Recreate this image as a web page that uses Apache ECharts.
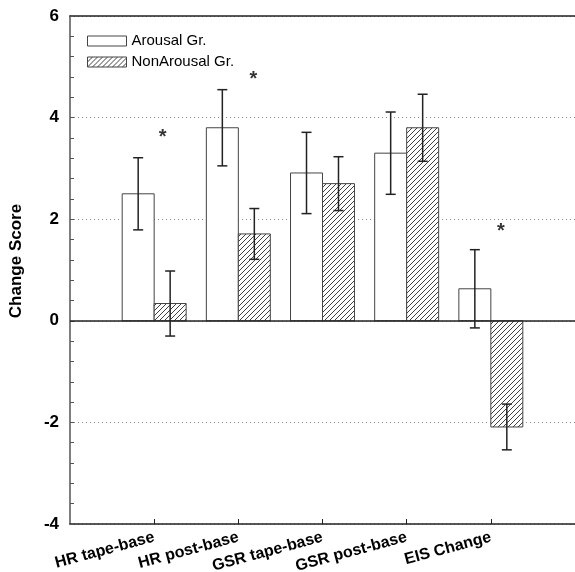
<!DOCTYPE html>
<html><head><meta charset="utf-8">
<script src="https://cdn.jsdelivr.net/npm/echarts@6/dist/echarts.min.js"></script>
<style>html,body{margin:0;padding:0;background:#fff}#c{width:575px;height:572px}</style>
</head><body><div id="c"></div>
<script>
const categories = ['HR tape-base','HR post-base','GSR tape-base','GSR post-base','EIS Change'];
const arousal = [2.50, 3.80, 2.91, 3.30, 0.63];
const arousalErr = [0.71, 0.75, 0.80, 0.81, 0.77];
const nonArousal = [0.34, 1.71, 2.70, 3.80, -2.09];
const nonArousalErr = [0.64, 0.50, 0.53, 0.66, 0.45];
const sigMarks = [[1.10, 3.68], [2.18, 4.82], [5.12, 1.84]];

const BAR_W = 0.38;
const FONT = 'Liberation Sans, Arial, sans-serif';

function hatchCanvas(){
  const c = document.createElement('canvas'); c.width = 5; c.height = 5;
  const g = c.getContext('2d');
  g.fillStyle = '#fff'; g.fillRect(0,0,5,5);
  g.strokeStyle = '#2a2a2a'; g.lineWidth = 0.9;
  g.beginPath();
  g.moveTo(0,5); g.lineTo(5,0);
  g.moveTo(-1,1); g.lineTo(1,-1);
  g.moveTo(4,6); g.lineTo(6,4);
  g.stroke();
  return c;
}
const hatchFill = {image: hatchCanvas(), repeat: 'repeat'};

function makeRender(side, fill){
  return function(params, api){
    const x = api.value(0), v = api.value(1), e = api.value(2);
    const base = api.coord([x, 0]);
    const top = api.coord([x, v]);
    const w = api.size([BAR_W, 0])[0];
    const x0 = side < 0 ? base[0] - w : base[0];
    const y0 = Math.min(base[1], top[1]);
    const h = Math.abs(base[1] - top[1]);
    const cx = x0 + w / 2;
    const hi = api.coord([x, v + e])[1];
    const lo = api.coord([x, v - e])[1];
    const cap = 5;
    return {type: 'group', children: [
      {type: 'rect', shape: {x: x0, y: y0, width: w, height: h}, style: {fill: fill, stroke: '#444', lineWidth: 1}},
      {type: 'line', shape: {x1: cx, y1: hi, x2: cx, y2: lo}, style: {stroke: '#222', lineWidth: 1.5}},
      {type: 'line', shape: {x1: cx - cap, y1: hi, x2: cx + cap, y2: hi}, style: {stroke: '#222', lineWidth: 1.5}},
      {type: 'line', shape: {x1: cx - cap, y1: lo, x2: cx + cap, y2: lo}, style: {stroke: '#222', lineWidth: 1.5}}
    ]};
  };
}

const chart = echarts.init(document.getElementById('c'), null, {renderer: 'canvas'});
const ticks = categories.map((c, i) => i + 1);
chart.setOption({
  animation: false,
  backgroundColor: '#fff',
  textStyle: {fontFamily: FONT},
  grid: {left: 70, top: 16, right: 0, bottom: 48, containLabel: false, outerBoundsMode: 'none'},
  legend: {
    orient: 'vertical', left: 82, top: 28.5, itemWidth: 39, itemHeight: 10, itemGap: 6,
    icon: 'rect',
    textStyle: {fontSize: 15, fontFamily: FONT, color: '#000', lineHeight: 15},
    data: [
      {name: 'Arousal Gr.', itemStyle: {color: '#fff', borderColor: '#444', borderWidth: 1}},
      {name: 'NonArousal Gr.', itemStyle: {color: hatchFill, borderColor: '#444', borderWidth: 1}}
    ]
  },
  xAxis: [{
    type: 'value', min: 0, max: 6, interval: 1, position: 'bottom',
    axisLine: {show: true, onZero: false, lineStyle: {color: '#222', width: 1.5}},
    axisTick: {show: true, inside: true, length: 5, customValues: ticks, lineStyle: {color: '#222'}},
    axisLabel: {customValues: ticks, formatter: v => categories[Math.round(v) - 1] || '', rotate: 15, margin: 13,
      fontSize: 16, fontWeight: 'bold', color: '#000', fontFamily: FONT},
    splitLine: {show: false}
  }, {
    type: 'value', min: 0, max: 6, position: 'top',
    axisLine: {show: true, onZero: false, lineStyle: {color: '#222', width: 1.5}},
    axisTick: {show: false}, axisLabel: {show: false}, splitLine: {show: false}
  }],
  yAxis: {
    type: 'value', min: -4, max: 6, interval: 2,
    name: 'Change Score', nameLocation: 'middle', nameGap: 45,
    nameTextStyle: {fontSize: 17, fontWeight: 'bold', color: '#000', fontFamily: FONT, padding: [0, 0, 0, 18]},
    axisLine: {show: true, onZero: false, lineStyle: {color: '#555', width: 1.5}},
    axisTick: {show: true, inside: true, length: 4, lineStyle: {color: '#555'}},
    minorTick: {show: true, splitNumber: 5, length: 4, lineStyle: {color: '#555'}},
    axisLabel: {fontSize: 17, fontWeight: 'bold', color: '#000', margin: 11, fontFamily: FONT},
    splitLine: {show: true, lineStyle: {type: [1, 3], color: '#888', width: 1}}
  },
  series: [
    {name: 'Arousal Gr.', type: 'custom', xAxisIndex: 0, z: 2,
      itemStyle: {color: '#fff', borderColor: '#444'},
      renderItem: makeRender(-1, '#fff'),
      data: arousal.map((v, i) => [i + 1, v, arousalErr[i]])},
    {name: 'NonArousal Gr.', type: 'custom', xAxisIndex: 0, z: 2,
      itemStyle: {color: hatchFill, borderColor: '#444'},
      renderItem: makeRender(1, hatchFill),
      data: nonArousal.map((v, i) => [i + 1, v, nonArousalErr[i]])},
    {name: 'sig', type: 'scatter', xAxisIndex: 0, z: 5, symbolSize: 1,
      itemStyle: {color: 'rgba(0,0,0,0)'},
      label: {show: true, position: 'inside', formatter: '*', fontSize: 20, fontWeight: 'bold', color: '#000', fontFamily: FONT, offset: [0, 4]},
      data: sigMarks,
      markLine: {silent: true, symbol: 'none', label: {show: false},
        lineStyle: {type: 'solid', color: '#222', width: 1.5},
        data: [{yAxis: 0}]}
    }
  ]
});
</script>
</body></html>
